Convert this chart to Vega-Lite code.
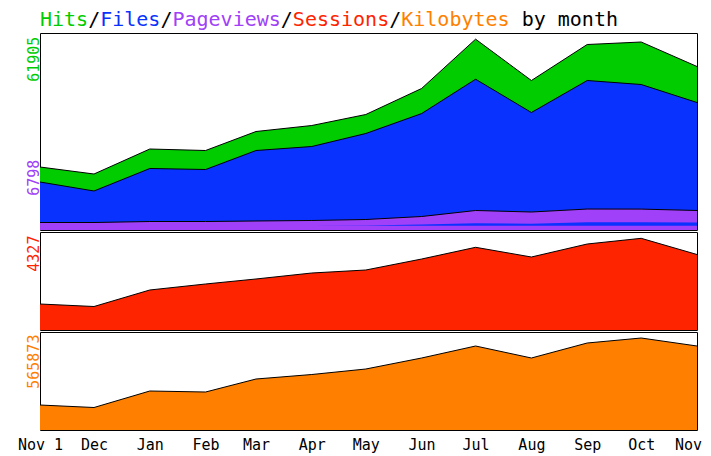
{
  "$schema": "https://vega.github.io/schema/vega-lite/v6.json",
  "background": "white",
  "padding": {"left": 16, "top": 9, "right": 0, "bottom": 0},
  "spacing": 0,
  "config": {
    "font": "DejaVu Sans Mono",
    "view": {"stroke": "#000000", "strokeWidth": 1},
    "axis": {"grid": false, "domain": false, "ticks": false, "tickSize": 0, "title": null, "labelFont": "DejaVu Sans Mono", "labelFontSize": 15, "labelOverlap": false, "labelBound": false, "labelFlush": false}
  },
  "datasets": {
    "monthly": [
      {"date": "2008-11-01", "hits": 20437, "files": 15571, "pageviews": 2433, "sessions": 1227, "kbytes": 153770, "stripe_lo": 1400, "stripe_hi": 1400},
      {"date": "2008-12-01", "hits": 18166, "files": 12652, "pageviews": 2433, "sessions": 1109, "kbytes": 138393, "stripe_lo": 1400, "stripe_hi": 1400},
      {"date": "2009-01-01", "hits": 26276, "files": 19951, "pageviews": 2757, "sessions": 1888, "kbytes": 239881, "stripe_lo": 1400, "stripe_hi": 1400},
      {"date": "2009-02-01", "hits": 25790, "files": 19626, "pageviews": 2757, "sessions": 2171, "kbytes": 233730, "stripe_lo": 1400, "stripe_hi": 1400},
      {"date": "2009-03-01", "hits": 31953, "files": 25790, "pageviews": 2920, "sessions": 2407, "kbytes": 313691, "stripe_lo": 1400, "stripe_hi": 1400},
      {"date": "2009-04-01", "hits": 33900, "files": 27087, "pageviews": 3082, "sessions": 2690, "kbytes": 341369, "stripe_lo": 1400, "stripe_hi": 1400},
      {"date": "2009-05-01", "hits": 37468, "files": 31305, "pageviews": 3406, "sessions": 2831, "kbytes": 375199, "stripe_lo": 1400, "stripe_hi": 1500},
      {"date": "2009-06-01", "hits": 45903, "files": 37771, "pageviews": 4379, "sessions": 3350, "kbytes": 442858, "stripe_lo": 1400, "stripe_hi": 1750},
      {"date": "2009-07-01", "hits": 61905, "files": 48920, "pageviews": 6326, "sessions": 3903, "kbytes": 516667, "stripe_lo": 1400, "stripe_hi": 2170},
      {"date": "2009-08-01", "hits": 48498, "files": 38117, "pageviews": 5839, "sessions": 3445, "kbytes": 442858, "stripe_lo": 1400, "stripe_hi": 2050},
      {"date": "2009-09-01", "hits": 60176, "files": 48498, "pageviews": 6798, "sessions": 4058, "kbytes": 535120, "stripe_lo": 1400, "stripe_hi": 2500},
      {"date": "2009-10-01", "hits": 60987, "files": 47200, "pageviews": 6780, "sessions": 4327, "kbytes": 565873, "stripe_lo": 1400, "stripe_hi": 2550},
      {"date": "2009-11-01", "hits": 53039, "files": 41361, "pageviews": 6326, "sessions": 3563, "kbytes": 516667, "stripe_lo": 1400, "stripe_hi": 2400}
    ],
    "title": [
      {"series": "Hits", "text": "Hits"},
      {"series": "Files", "text": "\u200b\u00a0\u00a0\u00a0\u00a0\u00a0Files"},
      {"series": "Pageviews", "text": "\u200b\u00a0\u00a0\u00a0\u00a0\u00a0\u00a0\u00a0\u00a0\u00a0\u00a0\u00a0Pageviews"},
      {"series": "Sessions", "text": "\u200b\u00a0\u00a0\u00a0\u00a0\u00a0\u00a0\u00a0\u00a0\u00a0\u00a0\u00a0\u00a0\u00a0\u00a0\u00a0\u00a0\u00a0\u00a0\u00a0\u00a0\u00a0Sessions"},
      {"series": "Kilobytes", "text": "\u200b\u00a0\u00a0\u00a0\u00a0\u00a0\u00a0\u00a0\u00a0\u00a0\u00a0\u00a0\u00a0\u00a0\u00a0\u00a0\u00a0\u00a0\u00a0\u00a0\u00a0\u00a0\u00a0\u00a0\u00a0\u00a0\u00a0\u00a0\u00a0\u00a0\u00a0Kilobytes"},
      {"series": "other", "text": "\u200b\u00a0\u00a0\u00a0\u00a0/\u00a0\u00a0\u00a0\u00a0\u00a0/\u00a0\u00a0\u00a0\u00a0\u00a0\u00a0\u00a0\u00a0\u00a0/\u00a0\u00a0\u00a0\u00a0\u00a0\u00a0\u00a0\u00a0/\u00a0\u00a0\u00a0\u00a0\u00a0\u00a0\u00a0\u00a0\u00a0\u00a0by month"}
    ]
  },
  "vconcat": [
    {
      "width": 657,
      "height": 197,
      "data": {"name": "monthly"},
      "encoding": {
        "x": {"field": "date", "type": "temporal", "scale": {"type": "utc", "domain": [{"year": 2008, "month": 11, "date": 1, "utc": true}, {"year": 2009, "month": 11, "date": 1, "utc": true}]}, "axis": null}
      },
      "layer": [
        {"mark": {"type": "area", "color": "#00cc00"}, "encoding": {"y": {"field": "hits", "type": "quantitative", "scale": {"domain": [0, 63907], "nice": false}, "axis": {"values": [62900, 23000], "labelExpr": "datum.value > 40000 ? '61905' : '6798'", "labelAngle": -90, "labelAlign": "right", "labelBaseline": "alphabetic", "labelPadding": 2, "labelColor": {"condition": {"test": "datum.value > 40000", "value": "#00cc00"}, "value": "#a040f8"}}}}},
        {"mark": {"type": "line", "color": "#000000", "strokeWidth": 1}, "encoding": {"y": {"field": "hits", "type": "quantitative"}}},
        {"mark": {"type": "area", "color": "#0a32ff"}, "encoding": {"y": {"field": "files", "type": "quantitative"}}},
        {"mark": {"type": "line", "color": "#000000", "strokeWidth": 1}, "encoding": {"y": {"field": "files", "type": "quantitative"}}},
        {"mark": {"type": "area", "color": "#a040f8"}, "encoding": {"y": {"field": "pageviews", "type": "quantitative"}}},
        {"mark": {"type": "line", "color": "#000000", "strokeWidth": 1}, "encoding": {"y": {"field": "pageviews", "type": "quantitative"}}},
        {"mark": {"type": "area", "color": "#0a32ff"}, "encoding": {"y": {"field": "stripe_lo", "type": "quantitative"}, "y2": {"field": "stripe_hi"}}},
        {
          "data": {"name": "title"},
          "mark": {"type": "text", "align": "left", "baseline": "alphabetic", "fontSize": 20, "font": "DejaVu Sans Mono"},
          "encoding": {
            "x": {"value": 0},
            "y": {"value": -7},
            "text": {"field": "text"},
            "color": {"field": "series", "type": "nominal", "scale": {"domain": ["Hits", "Files", "Pageviews", "Sessions", "Kilobytes", "other"], "range": ["#00cc00", "#0a32ff", "#a040f8", "#ff2400", "#ff7f00", "#000000"]}, "legend": null}
          }
        }
      ]
    },
    {
      "width": 657,
      "height": 98,
      "data": {"name": "monthly"},
      "encoding": {
        "x": {"field": "date", "type": "temporal", "scale": {"type": "utc", "domain": [{"year": 2008, "month": 11, "date": 1, "utc": true}, {"year": 2009, "month": 11, "date": 1, "utc": true}]}, "axis": null}
      },
      "layer": [
        {"mark": {"type": "area", "color": "#ff2400"}, "encoding": {"y": {"field": "sessions", "type": "quantitative", "scale": {"domain": [0, 4625], "nice": false}, "axis": {"values": [4480], "labelExpr": "'4327'", "labelAngle": -90, "labelAlign": "right", "labelBaseline": "alphabetic", "labelPadding": 2, "labelColor": "#ff2400"}}}},
        {"mark": {"type": "line", "color": "#000000", "strokeWidth": 1}, "encoding": {"y": {"field": "sessions", "type": "quantitative"}}}
      ]
    },
    {
      "width": 657,
      "height": 98,
      "data": {"name": "monthly"},
      "encoding": {
        "x": {"field": "date", "type": "temporal", "scale": {"type": "utc", "domain": [{"year": 2008, "month": 11, "date": 1, "utc": true}, {"year": 2009, "month": 11, "date": 1, "utc": true}]}, "axis": {"values": [{"year": 2008, "month": 11, "date": 1, "utc": true}, {"year": 2008, "month": 12, "date": 1, "utc": true}, {"year": 2009, "month": 1, "date": 1, "utc": true}, {"year": 2009, "month": 2, "date": 1, "utc": true}, {"year": 2009, "month": 3, "date": 1, "utc": true}, {"year": 2009, "month": 4, "date": 1, "utc": true}, {"year": 2009, "month": 5, "date": 1, "utc": true}, {"year": 2009, "month": 6, "date": 1, "utc": true}, {"year": 2009, "month": 7, "date": 1, "utc": true}, {"year": 2009, "month": 8, "date": 1, "utc": true}, {"year": 2009, "month": 9, "date": 1, "utc": true}, {"year": 2009, "month": 10, "date": 1, "utc": true}, {"year": 2009, "month": 11, "date": 1, "utc": true}], "labelExpr": "utcFormat(datum.value, '%m') == '11' ? 'Nov 1' : utcFormat(datum.value, '%b')", "labelPadding": 7, "labelColor": "#000000"}}
      },
      "layer": [
        {"mark": {"type": "area", "color": "#ff7f00"}, "encoding": {"y": {"field": "kbytes", "type": "quantitative", "scale": {"domain": [0, 602778], "nice": false}, "axis": {"values": [590000], "labelExpr": "'565873'", "labelAngle": -90, "labelAlign": "right", "labelBaseline": "alphabetic", "labelPadding": 2, "labelColor": "#ff7f00"}}}},
        {"mark": {"type": "line", "color": "#000000", "strokeWidth": 1}, "encoding": {"y": {"field": "kbytes", "type": "quantitative"}}}
      ]
    }
  ]
}
